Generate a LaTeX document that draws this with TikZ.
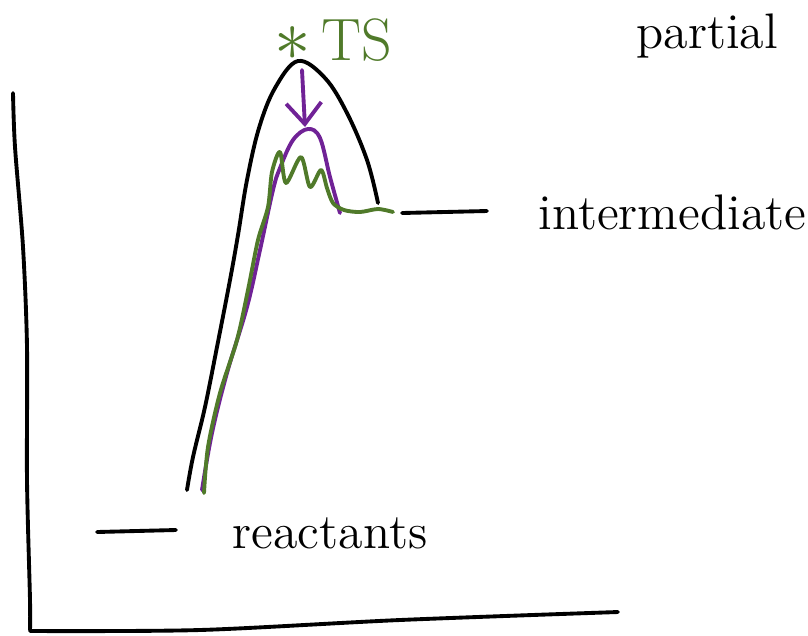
\documentclass[tikz,border=0pt]{standalone}
\usepackage{xcolor}
\usetikzlibrary{arrows.meta, positioning}

\definecolor{tsgreen}{RGB}{80,122,42}
\definecolor{catpurple}{RGB}{112,34,150}

\begin{document}
\begin{tikzpicture}[
    x=0.01cm, y=-0.01cm,
    pen/.style={line width=1.1pt, line cap=round, line join=round},
    label/.style={font=\fontsize{14.2}{16}\selectfont, inner sep=0pt}
]
    \useasboundingbox (0,0) rectangle (808,635);

    % Axes
    \draw[pen] plot[smooth] coordinates {(13,93) (15,147) (23,247) (27,347) (27,480) (30,600) (30,630)};
    \draw[pen] plot[smooth] coordinates {(30,631) (200,630) (400,620) (618,612)};

    % Energy levels
    \node[label, anchor=west] (react) at (232,533) {reactants};
    \coordinate (reactL) at (97,532);
    \coordinate (reactR) at (176,530);
    \draw[pen] (reactL) -- (reactR);

    \node[label, anchor=west] (inter) at (538,212) {intermediate};
    \coordinate (interL) at (402,213);
    \coordinate (interR) at (487,211);
    \draw[pen] (interL) -- (interR);

    % Uncatalysed barrier
    \draw[pen] plot[smooth, tension=0.6] coordinates {(187,490) (193,457) (205,407) (217,347) (230,280)
        (238,235) (247,180) (259,128) (275,88) (298,61) (325,78) (347,113) (367,160) (378,203)};

    % Lowered barrier
    \draw[pen, catpurple] plot[smooth, tension=0.6] coordinates {(202,490) (212,433) (227,373) (247,307)
        (260,250) (273,190) (280,168) (293,140) (308,129) (320,138) (330,177) (340,213)};

    % Noisy path
    \draw[pen, tsgreen] plot[smooth, tension=0.5] coordinates {(204,493) (208,447) (220,393) (237,340)
        (248,290) (258,240) (268,207) (272,172) (280,152) (286,183) (301,157) (310,187) (321,170)
        (327,188) (333,203) (344,210) (360,212) (378,209) (393,212)};

    % Arrow to lowered peak
    \coordinate (arrTop) at (302,70);
    \coordinate (arrEnd) at (305,127);
    \draw[pen, catpurple, -{Straight Barb[length=6pt, width=10pt]}] (arrTop) -- (arrEnd);

    % Labels
    \node[label, text=tsgreen, font=\fontsize{20}{20}\selectfont] (star) at (293,44) {$\ast$};
    \node[label, text=tsgreen, font=\fontsize{17}{19}\selectfont] (ts) at (357,40) {TS};
    \node[label, anchor=west] (partial) at (636,36) {partial};
\end{tikzpicture}
\end{document}
